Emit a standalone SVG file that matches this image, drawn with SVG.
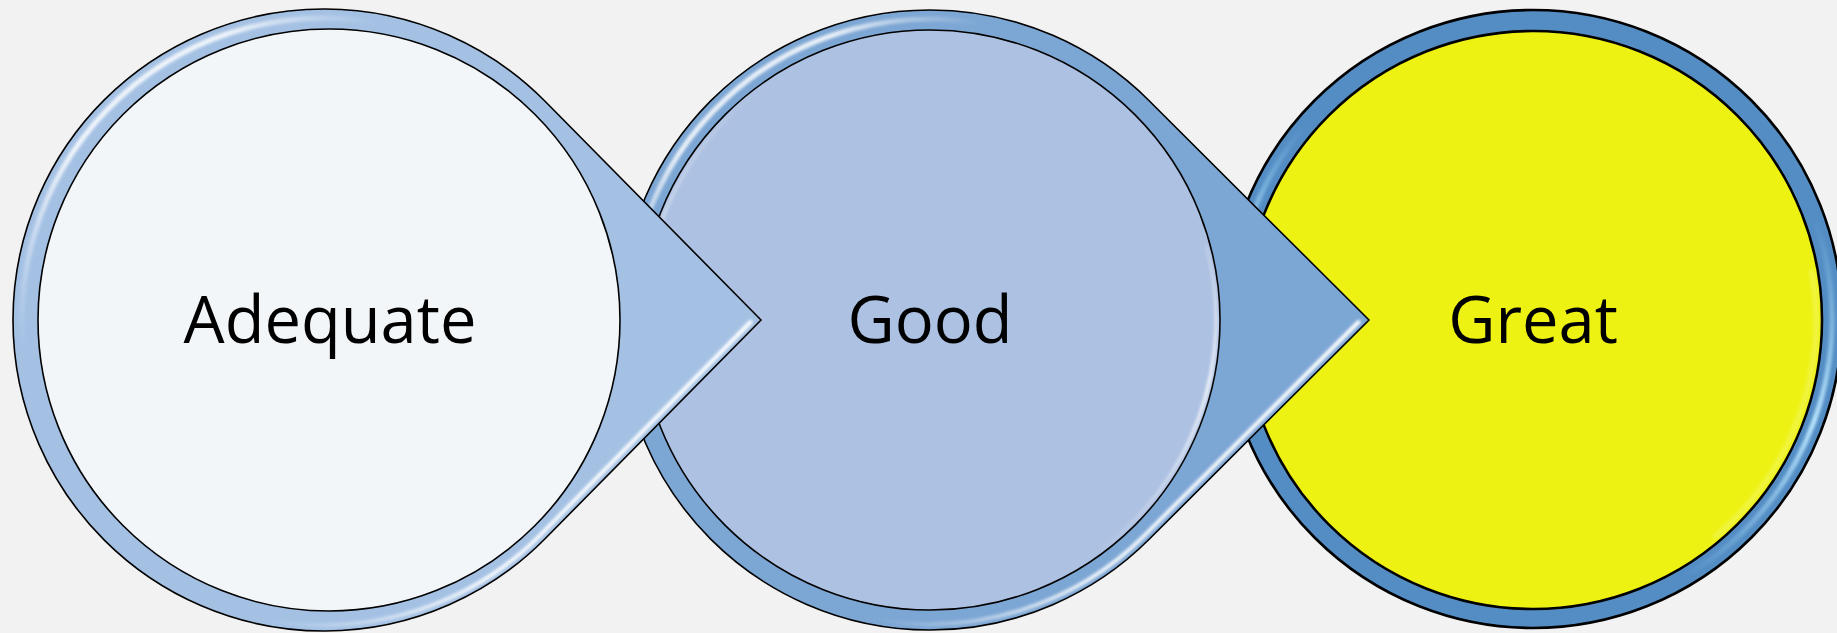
<svg xmlns="http://www.w3.org/2000/svg" width="1837" height="633" viewBox="0 0 1837 633">
<style>
.lbl{font-family:"Open Sans","Noto Sans","Liberation Sans",sans-serif;font-size:65px;fill:#000;text-anchor:middle}
.edge{stroke:#000;stroke-width:1.6}
.edge3{stroke:#000;stroke-width:2.6}
.hl{fill:none;stroke-linecap:round}
</style>
<defs>
<filter id="blur" x="-10%" y="-10%" width="120%" height="120%"><feGaussianBlur stdDeviation="1.4"/></filter>
<filter id="blur2" x="-10%" y="-10%" width="120%" height="120%"><feGaussianBlur stdDeviation="2.2"/></filter>
<linearGradient id="g1top" gradientUnits="userSpaceOnUse" x1="23" y1="346" x2="376" y2="23">
<stop offset="0" stop-color="#fff" stop-opacity="0"/><stop offset="0.35" stop-color="#fff" stop-opacity="0.85"/><stop offset="0.75" stop-color="#fff" stop-opacity="0.85"/><stop offset="1" stop-color="#fff" stop-opacity="0"/></linearGradient>
<linearGradient id="g1bot" gradientUnits="userSpaceOnUse" x1="750" y1="0" x2="270" y2="0">
<stop offset="0" stop-color="#fff" stop-opacity="1"/><stop offset="0.55" stop-color="#fff" stop-opacity="0.9"/><stop offset="1" stop-color="#fff" stop-opacity="0"/></linearGradient>
<linearGradient id="g2top" gradientUnits="userSpaceOnUse" x1="630" y1="346" x2="982" y2="23">
<stop offset="0" stop-color="#fff" stop-opacity="0"/><stop offset="0.35" stop-color="#fff" stop-opacity="0.85"/><stop offset="0.75" stop-color="#fff" stop-opacity="0.85"/><stop offset="1" stop-color="#fff" stop-opacity="0"/></linearGradient>
<linearGradient id="g2bot" gradientUnits="userSpaceOnUse" x1="1358" y1="0" x2="877" y2="0">
<stop offset="0" stop-color="#fff" stop-opacity="1"/><stop offset="0.55" stop-color="#fff" stop-opacity="0.9"/><stop offset="1" stop-color="#fff" stop-opacity="0"/></linearGradient>
<linearGradient id="g2inL" gradientUnits="userSpaceOnUse" x1="661" y1="418" x2="766" y2="86">
<stop offset="0" stop-color="#fff" stop-opacity="0.9"/><stop offset="1" stop-color="#fff" stop-opacity="0"/></linearGradient>
<linearGradient id="g2inR" gradientUnits="userSpaceOnUse" x1="1206" y1="246" x2="1094" y2="554">
<stop offset="0" stop-color="#fff" stop-opacity="0.2"/><stop offset="0.4" stop-color="#fff" stop-opacity="0.9"/><stop offset="1" stop-color="#fff" stop-opacity="0"/></linearGradient>
<linearGradient id="g3L" gradientUnits="userSpaceOnUse" x1="1252" y1="421" x2="1304" y2="127">
<stop offset="0" stop-color="#a9dcfa" stop-opacity="0"/><stop offset="0.5" stop-color="#a9dcfa" stop-opacity="1"/><stop offset="1" stop-color="#a9dcfa" stop-opacity="0"/></linearGradient>
<linearGradient id="g3R" gradientUnits="userSpaceOnUse" x1="1814" y1="217" x2="1682" y2="578">
<stop offset="0" stop-color="#a9dcfa" stop-opacity="0"/><stop offset="0.5" stop-color="#b8e4fc" stop-opacity="1"/><stop offset="1" stop-color="#a9dcfa" stop-opacity="0"/></linearGradient>
</defs>
<rect width="1837" height="633" fill="#f2f2f2"/>
<g id="connectors"/>
<g id="node-great">
<circle cx="1533" cy="319" r="309" fill="#538dc4" class="edge3"/>
<path class="hl" d="M1252 421.3 A299 299 0 0 1 1304 126.8" stroke="url(#g3L)" stroke-width="5" filter="url(#blur)"/>
<path class="hl" d="M1814 216.7 A299 299 0 0 1 1682.5 578" stroke="url(#g3R)" stroke-width="5" filter="url(#blur)"/>
<circle cx="1533" cy="320" r="289" fill="#edf213" class="edge3"/>
<path class="hl" d="M1811.7 270.9 A283 283 0 0 1 1715 536.8" stroke="#f6f98e" stroke-width="3" opacity="0.7" filter="url(#blur2)"/>
<text class="lbl" x="1533" y="343">Great</text>
</g>
<g id="node-good">
<path d="M1369 320 L1148.9 100.5 A310 310 0 1 0 1148.9 539.5 Z" fill="#7ca6d4" class="edge"/>
<path class="hl" d="M630.1 346.2 A301 301 0 0 1 982.3 23.6" stroke="url(#g2top)" stroke-width="5" filter="url(#blur)"/>
<path class="hl" d="M1358.6 322 L1144.7 535.3 A304 304 0 0 1 877.2 619.4" stroke="url(#g2bot)" stroke-width="4" filter="url(#blur)"/>
<circle cx="930" cy="320" r="290" fill="#adc1e2" class="edge"/>
<path class="hl" d="M661.2 417.8 A286 286 0 0 1 766 85.7" stroke="url(#g2inL)" stroke-width="3" filter="url(#blur)"/>
<path class="hl" d="M1206.3 246 A286 286 0 0 1 1094 554.3" stroke="url(#g2inR)" stroke-width="3" filter="url(#blur)"/>
<text class="lbl" x="930" y="343">Good</text>
</g>
<g id="node-adequate">
<path d="M761 320 L545.3 101.5 A311 311 0 1 0 545.3 538.5 Z" fill="#a4c1e4" class="edge"/>
<path class="hl" d="M23.1 346.3 A302 302 0 0 1 376.4 22.6" stroke="url(#g1top)" stroke-width="5" filter="url(#blur)"/>
<path class="hl" d="M750.6 322 L541 534.3 A305 305 0 0 1 271 620.4" stroke="url(#g1bot)" stroke-width="4" filter="url(#blur)"/>
<circle cx="329" cy="320" r="291" fill="#f3f6f9" class="edge"/>
<text class="lbl" x="330" y="343">Adequate</text>
</g>
</svg>
